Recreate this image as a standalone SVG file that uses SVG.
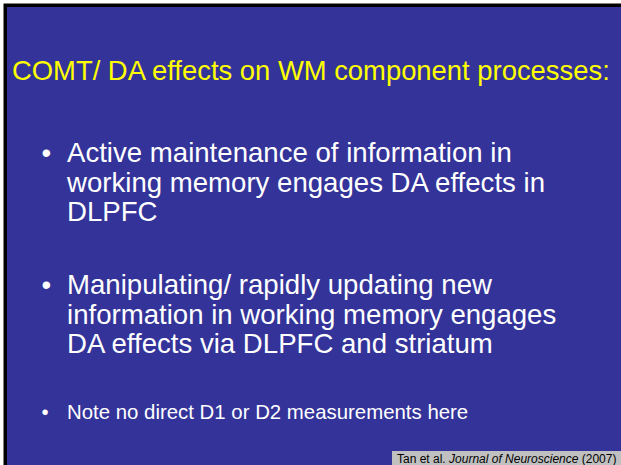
<svg xmlns="http://www.w3.org/2000/svg" width="621" height="465" viewBox="0 0 621 465">
<style>
text{font-family:"Liberation Sans",Arial,sans-serif}
.t{fill:#FFFF00;font-size:27.4px}
.b{fill:#FFFFFF;font-size:27.6px}
.n{fill:#FFFFFF;font-size:20.4px}
.c{fill:#000000;font-size:12px}
</style>
<rect x="0" y="0" width="621" height="465" fill="#FFFFFF"/>
<rect x="3.5" y="3.5" width="617.5" height="461.5" fill="#000000"/>
<rect x="7" y="7" width="614" height="458" fill="#333399"/>
<g id="title"><text class="t" x="12" y="80">COMT/ DA effects on WM component processes:</text></g>
<g id="bullet1">
<text class="b" x="41.5" y="162">•</text>
<text class="b"><tspan x="67" y="162">Active maintenance of information in</tspan><tspan x="67" y="191.5">working memory engages DA effects in</tspan><tspan x="67" y="221">DLPFC</tspan></text>
</g>
<g id="bullet2">
<text class="b" x="41.5" y="294">•</text>
<text class="b"><tspan x="67" y="294">Manipulating/ rapidly updating new</tspan><tspan x="67" y="323.5">information in working memory engages</tspan><tspan x="67" y="353">DA effects via DLPFC and striatum</tspan></text>
</g>
<g id="note">
<text class="n" x="41.5" y="419">•</text>
<text class="n" x="67" y="419">Note no direct D1 or D2 measurements here</text>
</g>
<g id="citation">
<rect x="392" y="451" width="229" height="14" fill="#C0C0C0"/>
<text class="c" x="397" y="463">Tan et al. <tspan font-style="italic">Journal of Neuroscience</tspan> (2007)</text>
</g>
</svg>
